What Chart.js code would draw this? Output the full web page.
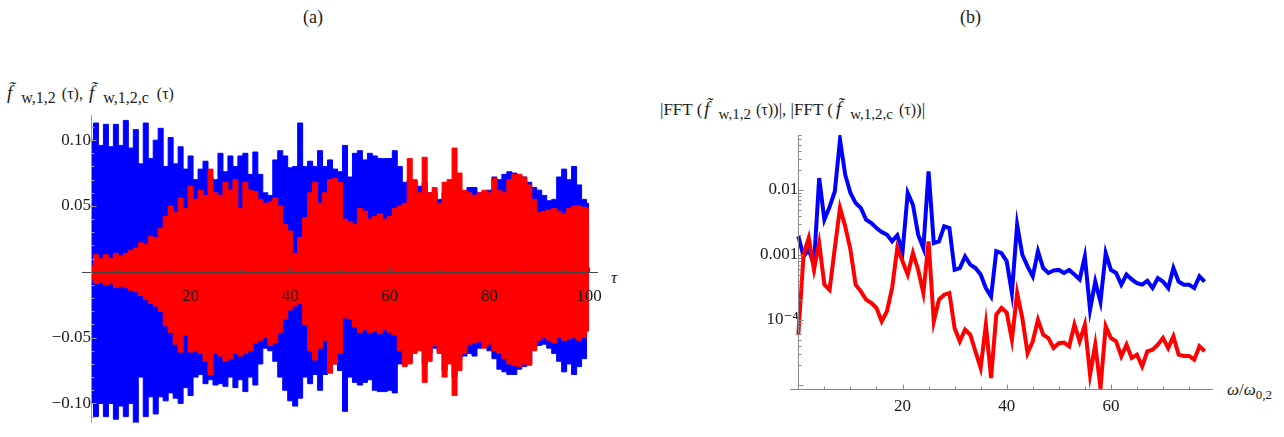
<!DOCTYPE html>
<html lang="en">
<head>
<meta charset="UTF-8">
<title>Signal and FFT</title>
<script src="https://cdn.jsdelivr.net/npm/chart.js"></script>
<style>
  body { margin: 0; width: 1284px; height: 437px; position: relative; overflow: hidden; background: #fff;
         font-family: "Liberation Serif", "DejaVu Serif", serif; color: #1a1a1a; }
  .abs { position: absolute; white-space: nowrap; line-height: 1; }
  .panel { position: absolute; top: 100px; height: 337px; }
  #wrapA { left: 0; width: 640px; }
  #wrapB { left: 640px; width: 644px; }
  .ttl { font-size: 16px; }
  .ttl i { font-size: 19px; }
  .ttl sub { font-size: 16px; vertical-align: -4px; }
  .ttl small { font-size: 16px; }
  .ttl.b { font-size: 17px; }
  .ttl.b sub { font-size: 15px; }
</style>
</head>
<body>
<div class="abs" style="left:303px;top:8px;font-size:18px">(a)</div>
<div class="abs" style="left:960px;top:8px;font-size:18px">(b)</div>

<div class="abs ttl" style="left:7px;top:83px"><i>f̃</i><sub style="margin-left:9px">w,1,2</sub><small style="margin-left:6px">(τ)</small>,<i style="margin-left:6px">f̃</i><sub style="margin-left:9px">w,1,2,c</sub><small style="margin-left:8px">(τ)</small></div>
<div class="abs ttl b" style="left:660px;top:99px">|FFT (<i style="margin-left:2px">f̃</i><sub style="margin-left:9px">w,1,2</sub><small style="margin-left:5px">(τ)</small>)|, |FFT (<i style="margin-left:3px">f̃</i><sub style="margin-left:9px">w,1,2,c</sub><small style="margin-left:6px">(τ)</small>)|</div>

<div class="abs" style="left:611px;top:269px;font-size:17px;font-style:italic">τ</div>
<div class="abs" style="left:1227px;top:381px;font-size:17px"><i>ω</i>/<i>ω</i><sub style="font-size:13px;vertical-align:-4px">0,2</sub></div>

<div class="panel" id="wrapA"><canvas id="chartA"></canvas></div>
<div class="panel" id="wrapB"><canvas id="chartB"></canvas></div>

<script>
// (a) envelope of the fast oscillation, one sample per unit of tau
const tau = Array.from({ length: 101 }, (_, i) => i);
const blueUpper = [
  0.100, 0.113, 0.096, 0.112, 0.095, 0.112, 0.096, 0.115, 0.094, 0.108,
  0.082, 0.113, 0.086, 0.100, 0.109, 0.080, 0.102, 0.082, 0.095, 0.078,
  0.088, 0.070, 0.078, 0.084, 0.072, 0.070, 0.090, 0.076, 0.088, 0.080,
  0.088, 0.090, 0.074, 0.091, 0.074, 0.060, 0.058, 0.085, 0.092, 0.088,
  0.079, 0.080, 0.113, 0.080, 0.084, 0.080, 0.092, 0.080, 0.085, 0.078,
  0.076, 0.096, 0.072, 0.090, 0.092, 0.085, 0.090, 0.088, 0.086, 0.086,
  0.086, 0.092, 0.080, 0.068, 0.070, 0.068, 0.065, 0.068, 0.060, 0.060,
  0.055, 0.060, 0.062, 0.070, 0.060, 0.060, 0.064, 0.064, 0.060, 0.058,
  0.062, 0.072, 0.070, 0.074, 0.076, 0.075, 0.074, 0.072, 0.068, 0.064,
  0.062, 0.058, 0.054, 0.055, 0.072, 0.078, 0.070, 0.080, 0.066, 0.055,
  0.052
];
const blueLower = [
  -0.100, -0.110, -0.100, -0.110, -0.100, -0.112, -0.102, -0.110, -0.100, -0.116,
  -0.080, -0.110, -0.095, -0.108, -0.095, -0.098, -0.092, -0.096, -0.100, -0.088,
  -0.094, -0.080, -0.078, -0.085, -0.082, -0.086, -0.085, -0.087, -0.080, -0.088,
  -0.082, -0.091, -0.080, -0.086, -0.070, -0.058, -0.060, -0.068, -0.080, -0.090,
  -0.098, -0.102, -0.096, -0.080, -0.085, -0.078, -0.090, -0.078, -0.074, -0.070,
  -0.075, -0.106, -0.080, -0.084, -0.086, -0.084, -0.082, -0.090, -0.091, -0.091,
  -0.090, -0.092, -0.070, -0.055, -0.068, -0.060, -0.058, -0.070, -0.062, -0.058,
  -0.060, -0.075, -0.066, -0.080, -0.066, -0.064, -0.062, -0.064, -0.058, -0.056,
  -0.060, -0.066, -0.074, -0.076, -0.078, -0.078, -0.074, -0.072, -0.070, -0.058,
  -0.056, -0.055, -0.058, -0.062, -0.068, -0.076, -0.070, -0.078, -0.072, -0.066,
  -0.040
];
const redUpper = [
  0.004, 0.013, 0.010, 0.013, 0.010, 0.014, 0.012, 0.014, 0.016, 0.018,
  0.022, 0.021, 0.027, 0.026, 0.033, 0.042, 0.050, 0.045, 0.056, 0.048,
  0.065, 0.055, 0.062, 0.058, 0.078, 0.060, 0.058, 0.068, 0.062, 0.070,
  0.048, 0.068, 0.062, 0.061, 0.055, 0.052, 0.053, 0.056, 0.050, 0.036,
  0.031, 0.014, 0.026, 0.041, 0.060, 0.068, 0.052, 0.060, 0.070, 0.071,
  0.068, 0.040, 0.038, 0.036, 0.048, 0.046, 0.040, 0.042, 0.044, 0.040,
  0.042, 0.048, 0.050, 0.052, 0.086, 0.070, 0.060, 0.087, 0.060, 0.064,
  0.052, 0.068, 0.070, 0.094, 0.075, 0.062, 0.060, 0.058, 0.060, 0.062,
  0.060, 0.071, 0.062, 0.060, 0.070, 0.074, 0.074, 0.072, 0.066, 0.055,
  0.045, 0.046, 0.047, 0.048, 0.046, 0.044, 0.048, 0.050, 0.050, 0.049,
  0.048
];
const redLower = [
  -0.006, -0.009, -0.008, -0.010, -0.009, -0.012, -0.011, -0.012, -0.014, -0.015,
  -0.018, -0.021, -0.024, -0.026, -0.030, -0.041, -0.046, -0.055, -0.061, -0.048,
  -0.061, -0.060, -0.062, -0.068, -0.078, -0.062, -0.064, -0.068, -0.066, -0.062,
  -0.064, -0.062, -0.060, -0.054, -0.052, -0.050, -0.056, -0.054, -0.046, -0.036,
  -0.029, -0.026, -0.024, -0.040, -0.060, -0.067, -0.058, -0.052, -0.077, -0.070,
  -0.062, -0.035, -0.036, -0.042, -0.046, -0.044, -0.046, -0.045, -0.047, -0.044,
  -0.046, -0.048, -0.060, -0.072, -0.070, -0.062, -0.060, -0.084, -0.068, -0.056,
  -0.062, -0.080, -0.070, -0.094, -0.075, -0.062, -0.055, -0.054, -0.053, -0.058,
  -0.055, -0.060, -0.062, -0.066, -0.070, -0.071, -0.072, -0.070, -0.071, -0.060,
  -0.052, -0.050, -0.052, -0.054, -0.050, -0.052, -0.051, -0.050, -0.052, -0.050,
  -0.045
];

// (b) FFT magnitudes, one sample per unit of omega/omega_0,2
const omega = Array.from({ length: 79 }, (_, i) => i);
const fftBlue = [
  0.00194, 0.00095, 0.00121, 0.00071, 0.0153, 0.0035, 0.0055, 0.0095, 0.0594, 0.0172,
  0.0090, 0.0063, 0.00528, 0.0035, 0.0031, 0.0026, 0.00226, 0.00206, 0.00162, 0.00201,
  0.00111, 0.0090, 0.00594, 0.00206, 0.00128, 0.0194, 0.00153, 0.00162, 0.00276, 0.0026,
  0.00059, 0.00063, 0.00095, 0.00071, 0.00063, 0.0005, 0.00031, 0.00023, 0.00114, 0.00107,
  0.0008, 0.00026, 0.00293, 0.00101, 0.00067, 0.00047, 0.00114, 0.00063, 0.00053, 0.00058,
  0.00059, 0.00053, 0.00059, 0.0005, 0.00042, 0.00095, 0.000144, 0.00039, 0.00019, 0.00107,
  0.00059, 0.00053, 0.00035, 0.0005, 0.00042, 0.00037, 0.00035, 0.0004, 0.00031, 0.00044,
  0.00039, 0.00031, 0.00063, 0.00039, 0.00035, 0.00035, 0.00031, 0.00047, 0.00039
];
const fftRed = [
  5.9e-5, 1.01e-3, 1.83e-3, 6.0e-4, 1.53e-3, 3.5e-4, 2.9e-4, 1.28e-3, 5.3e-3, 2.76e-3,
  1.21e-3, 3.5e-4, 2.76e-4, 2.06e-4, 1.83e-4, 1.53e-4, 9.5e-5, 1.36e-4, 3.1e-4, 1.28e-3,
  8.0e-4, 4.98e-4, 1.07e-3, 5.94e-4, 2.6e-4, 1.62e-3, 9.5e-5, 2.06e-4, 2.45e-4, 2.6e-4,
  7.5e-5, 4.7e-5, 7.1e-5, 5.94e-5, 3.3e-5, 1.83e-5, 8.5e-5, 1.28e-5, 1.21e-4, 1.53e-4,
  1.3e-4, 4.98e-5, 2.6e-4, 1.07e-4, 3.1e-5, 4.7e-5, 1.01e-4, 5.94e-5, 5.28e-5, 3.7e-5,
  4.4e-5, 4.5e-5, 3.94e-5, 8.5e-5, 4.7e-5, 8.5e-5, 1.44e-5, 4.18e-5, 9.0e-6, 8.0e-5,
  5.28e-5, 4.7e-5, 2.76e-5, 4.18e-5, 2.6e-5, 2.93e-5, 1.94e-5, 3.3e-5, 3.5e-5, 4.18e-5,
  5.28e-5, 3.7e-5, 5.6e-5, 2.93e-5, 2.8e-5, 2.8e-5, 2.45e-5, 3.94e-5, 3.3e-5
];

const BLUE = '#0000ff';
const RED = '#ff0000';
const serif = { family: '"Liberation Serif", "DejaVu Serif", serif', size: 17 };

// Mathematica-like axes: drawn over the data, tick marks pointing inwards
const axesAndTicks = {
  id: 'axesAndTicks',
  afterDatasetsDraw(chart, args, opts) {
    const { ctx, chartArea: area, scales: { x, y } } = chart;
    const xAxisY = Math.round(y.getPixelForValue(opts.xAt)) + 0.5;
    const yAxisX = Math.round(x.getPixelForValue(opts.yAt)) + 0.5;
    const seg = (x1, y1, x2, y2) => { ctx.beginPath(); ctx.moveTo(x1, y1); ctx.lineTo(x2, y2); ctx.stroke(); };
    ctx.save();
    ctx.lineWidth = 1;
    ctx.strokeStyle = opts.xColor;
    seg(area.left, xAxisY, area.right, xAxisY);
    x.ticks.forEach(t => {
      const px = Math.round(x.getPixelForValue(t.value)) + 0.5;
      seg(px, xAxisY, px, xAxisY - (t.label ? 5 : 3));
    });
    ctx.strokeStyle = opts.yColor;
    seg(yAxisX, area.top, yAxisX, area.bottom);
    y.ticks.forEach(t => {
      const py = Math.round(y.getPixelForValue(t.value)) + 0.5;
      seg(yAxisX, py, yAxisX + (t.major ? 5 : 3), py);
    });
    ctx.restore();
  }
};

const aXTicks = [5, 10, 15, 20, 25, 30, 35, 40, 45, 50, 55, 60, 65, 70, 75, 80, 85, 90, 95, 100];
const aYTicks = [];
for (let i = -11; i <= 11; i++) if (i !== 0) aYTicks.push(i / 100);

new Chart(document.getElementById('chartA'), {
  type: 'line',
  data: {
    labels: tau,
    datasets: [
      { data: blueUpper, fill: '+1', backgroundColor: BLUE, borderColor: BLUE, order: 2 },
      { data: blueLower, fill: false, borderColor: BLUE, order: 2 },
      { data: redUpper, fill: '+1', backgroundColor: RED, borderColor: RED, order: 1 },
      { data: redLower, fill: false, borderColor: RED, order: 1 }
    ]
  },
  options: {
    responsive: true,
    maintainAspectRatio: false,
    animation: false,
    layout: { padding: { left: 82, right: 42, top: 15, bottom: 4 } },
    elements: { point: { radius: 0 }, line: { borderWidth: 1, stepped: 'middle' } },
    plugins: {
      legend: { display: false },
      tooltip: { enabled: false },
      axesAndTicks: { xAt: 0, yAt: 0, xColor: '#444', yColor: '#999' }
    },
    scales: {
      x: {
        type: 'linear', min: -1.8, max: 101.8, position: { y: 0 },
        grid: { display: false, drawTicks: false }, border: { display: false },
        afterBuildTicks: s => { s.ticks = aXTicks.map(v => ({ value: v })); },
        // labels sit on top of the filled areas, as in the original
        ticks: { z: 1, font: serif, color: '#1a1a1a', padding: 15, maxRotation: 0, autoSkip: false,
                 callback: v => (v % 20 === 0 ? String(v) : '') }
      },
      y: {
        type: 'linear', min: -0.1147, max: 0.1191, position: { x: 0 },
        grid: { display: false, drawTicks: false }, border: { display: false },
        afterBuildTicks: s => { s.ticks = aYTicks.map(v => ({ value: v, major: Math.round(v * 100) % 5 === 0 })); },
        ticks: { font: serif, color: '#1a1a1a', padding: 4, autoSkip: false,
                 callback: v => {
                   const r = Math.round(v * 100);
                   return r % 5 === 0 ? (r < 0 ? '\u2212' : '') + Math.abs(v).toFixed(2) : '';
                 } }
      }
    }
  },
  plugins: [axesAndTicks]
});

const B_MIN = 8.68e-6, B_MAX = 0.0702;
const bXTicks = [5, 10, 15, 20, 25, 30, 35, 40, 45, 50, 55, 60, 65, 70, 75];
const bYTicks = [];
for (let e = -5; e <= -2; e++) for (let m = 1; m <= 9; m++) if (m * Math.pow(10, e) <= B_MAX) bYTicks.push(m * Math.pow(10, e));
const logLabel = v => {
  const e = Math.round(Math.log10(v));
  if (Math.abs(Math.log10(v) - e) > 1e-6) return '';
  if (e === -2) return '0.01';
  if (e === -3) return '0.001';
  if (e === -4) return '10\u207B\u2074';
  return '';
};

new Chart(document.getElementById('chartB'), {
  type: 'line',
  data: {
    labels: omega,
    datasets: [
      { data: fftBlue, borderColor: BLUE, order: 2 },
      { data: fftRed, borderColor: RED, order: 1 }
    ]
  },
  options: {
    responsive: true,
    maintainAspectRatio: false,
    animation: false,
    layout: { padding: { left: 150, right: 71, top: 35, bottom: 48 } },
    elements: { point: { radius: 0 }, line: { borderWidth: 4, tension: 0, fill: false } },
    plugins: {
      legend: { display: false },
      tooltip: { enabled: false },
      axesAndTicks: { xAt: B_MIN, yAt: 0, xColor: '#888', yColor: '#888' }
    },
    scales: {
      x: {
        type: 'linear', min: -1.6, max: 79.6, position: { y: B_MIN },
        grid: { display: false, drawTicks: false }, border: { display: false },
        afterBuildTicks: s => { s.ticks = bXTicks.map(v => ({ value: v })); },
        ticks: { font: serif, color: '#1a1a1a', padding: 7, maxRotation: 0, autoSkip: false,
                 callback: v => (v % 20 === 0 ? String(v) : '') }
      },
      y: {
        type: 'logarithmic', min: B_MIN, max: B_MAX, position: { x: 0 },
        grid: { display: false, drawTicks: false }, border: { display: false },
        afterBuildTicks: s => { s.ticks = bYTicks.map(v => ({ value: v, major: logLabel(v) !== '' || Math.abs(Math.log10(v) + 5) < 1e-6 })); },
        ticks: { font: serif, color: '#1a1a1a', padding: 7, autoSkip: false, callback: v => logLabel(v) }
      }
    }
  },
  plugins: [axesAndTicks]
});
</script>
</body>
</html>
